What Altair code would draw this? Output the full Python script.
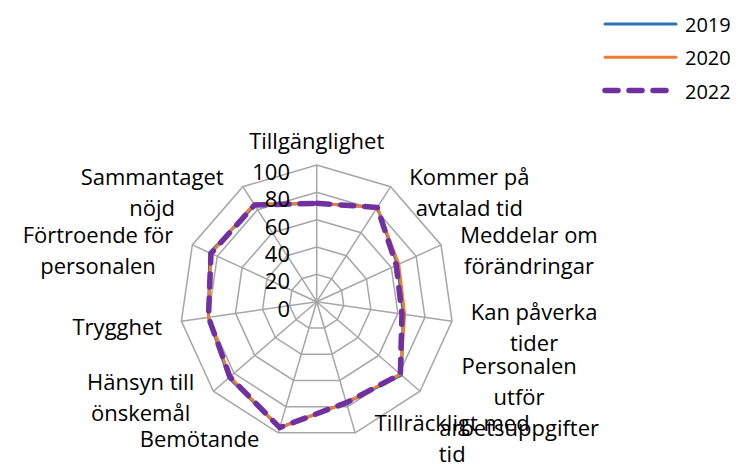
import math
import altair as alt
import pandas as pd

# ---------------- data ----------------
categories = ["Tillgänglighet", "Kommer på avtalad tid", "Meddelar om förändringar",
              "Kan påverka tider", "Personalen utför arbetsuppgifter", "Tillräckligt med tid",
              "Bemötande", "Hänsyn till önskemål", "Trygghet", "Förtroende för personalen",
              "Sammantaget nöjd"]
label_lines = [["Tillgänglighet"], ["Kommer på", "avtalad tid"], ["Meddelar om", "förändringar"],
               ["Kan påverka", "tider"], ["Personalen", "utför", "arbetsuppgifter"],
               ["Tillräckligt med", "tid"], ["Bemötande"], ["Hänsyn till", "önskemål"],
               ["Trygghet"], ["Förtroende för", "personalen"], ["Sammantaget", "nöjd"]]
years = ["2019", "2020", "2022"]
values_2019 = [72, 82, 65, 64, 82, 77, 96, 85, 80, 86, 84]
values_2020 = [72, 82, 66, 65, 81, 77, 96, 84, 80, 85, 85]
values_2022 = [72, 82, 64, 63, 81, 77, 96, 84, 80, 85, 84]
tick_values = [0, 20, 40, 60, 80, 100]
ring_values = [20, 40, 60, 80, 100]

# ---------------- styles / layout ----------------
colors = ["#2E75B6", "#ED7D31", "#7030A0"]
dashes = [[1, 0], [1, 0], [13, 11]]
widths = [3, 3, 5.5]
FONT = "Open Sans"
FS = 22
LEG_FS = 20
GRID = "#a6a6a6"

W, H = 723, 454
CX, CY = 316.7, 301.7          # radar centre on page (px)
R100 = 136.7                   # radius of the 100 ring (px)
K = R100 / 100.0
CXp, CYp = CX - 8, CY - 8
XDOM = [-CXp / K, (W - CXp) / K]
YDOM = [-(H - CYp) / K, CYp / K]
N = len(categories)
ANG = f"datum.idx * 2 * PI / {N}"


def X(f):
    return alt.X(f, type="quantitative", scale=alt.Scale(domain=XDOM, nice=False, zero=False), axis=None)


def Y(f):
    return alt.Y(f, type="quantitative", scale=alt.Scale(domain=YDOM, nice=False, zero=False), axis=None)


# text width estimate (Open Sans advance widths, em)
CW = {'a': .556, 'b': .613, 'c': .480, 'd': .613, 'e': .561, 'f': .336, 'g': .550, 'h': .613,
      'i': .258, 'j': .258, 'k': .529, 'l': .258, 'm': .929, 'n': .613, 'o': .601, 'p': .613,
      'q': .613, 'r': .408, 's': .479, 't': .356, 'u': .613, 'v': .500, 'w': .774, 'x': .520,
      'y': .500, 'z': .468, 'ä': .556, 'å': .556, 'ö': .601, ' ': .260, 'T': .556, 'K': .579,
      'M': .907, 'P': .603, 'B': .632, 'H': .738, 'S': .549, 'F': .525}


def tw(s):
    return sum(CW.get(c, 0.6) for c in s) * FS


# ---------------- tables ----------------
rows = []
for yr, vals in zip(years, [values_2019, values_2020, values_2022]):
    for i, v in enumerate(vals):
        rows.append({"year": yr, "idx": i, "value": v})
series_df = pd.DataFrame(rows)

ring_df = pd.DataFrame([{"level": lv, "idx": i} for lv in ring_values for i in range(N)])
spoke_df = pd.DataFrame({"idx": list(range(N))})
tick_df = pd.DataFrame({"tick": tick_values, "label": [str(t) for t in tick_values]})

lab_rows = []
for i, lines in enumerate(label_lines):
    hw = max(tw(s) for s in lines) / 2
    for j, s in enumerate(lines):
        lab_rows.append({"idx": i, "line": j, "n": len(lines), "text": s, "hw": hw})
lab_df = pd.DataFrame(lab_rows)

legend_df = pd.DataFrame({"year": years, "pos": list(range(len(years)))})

# ---------------- layers ----------------
rings = alt.Chart(ring_df).transform_calculate(
    theta=ANG,
    x="datum.level * sin(datum.theta)",
    y="datum.level * cos(datum.theta)",
).mark_line(interpolate="linear-closed", color=GRID, strokeWidth=1.5).encode(
    x=X("x"), y=Y("y"), detail="level:N", order="idx:Q")

spokes = alt.Chart(spoke_df).transform_calculate(
    theta=ANG,
    x0="0", y0="0",
    x="100 * sin(datum.theta)",
    y="100 * cos(datum.theta)",
).mark_rule(color=GRID, strokeWidth=1.5).encode(
    x=X("x0"), y=Y("y0"), x2="x:Q", y2="y:Q")

ticks = alt.Chart(tick_df).transform_calculate(
    x=f"{-26.7 / K}",
    y=f"datum.tick - {8 / K}",
).mark_text(align="right", baseline="middle", font=FONT, fontSize=FS, color="black").encode(
    x=X("x"), y=Y("y"), text="label:N")

labels = alt.Chart(lab_df).transform_calculate(
    theta=ANG,
    vx="100 * sin(datum.theta)",
    vy="100 * cos(datum.theta)",
    side="sin(datum.theta) > 0.01 ? 1 : (sin(datum.theta) < -0.01 ? -1 : 0)",
    x=f"datum.vx + datum.side * ({19} + datum.hw) / {K}",
    y=f"datum.vy + (datum.side == 0 ? {23 / K} : {-7 / K}) - (datum.line - (datum.n - 1) / 2) * {31 / K}",
).mark_text(align="center", baseline="middle", font=FONT, fontSize=FS, color="black").encode(
    x=X("x"), y=Y("y"), text="text:N")

series_layers = []
for yr, col, dsh, wd in zip(years, colors, dashes, widths):
    series_layers.append(
        alt.Chart(series_df).transform_filter(f"datum.year == '{yr}'").transform_calculate(
            theta=ANG,
            x="datum.value * sin(datum.theta)",
            y="datum.value * cos(datum.theta)",
        ).mark_line(interpolate="linear-closed", color=col, strokeDash=dsh, strokeWidth=wd,
                    strokeCap="round", strokeJoin="round").encode(
            x=X("x"), y=Y("y"), order="idx:Q")
    )

# legend (drawn from the years list)
LX0, LX1, LTX, LY0, LDY = 605, 676, 685, 24, 33.3
legend_lines = []
for yr, col, dsh, wd in zip(years, colors, dashes, widths):
    legend_lines.append(
        alt.Chart(legend_df).transform_filter(f"datum.year == '{yr}'").transform_calculate(
            x0=f"{(LX0 - CX) / K}",
            x1=f"{(LX1 - CX) / K}",
            y=f"({CY} - ({LY0} + datum.pos * {LDY})) / {K}",
        ).mark_rule(color=col, strokeDash=dsh, strokeWidth=wd, strokeCap="round").encode(
            x=X("x0"), x2="x1:Q", y=Y("y"))
    )
legend_text = alt.Chart(legend_df).transform_calculate(
    x=f"{(LTX - CX) / K}",
    y=f"({CY} - ({LY0} + 2 + datum.pos * {LDY})) / {K}",
).mark_text(align="left", baseline="middle", font=FONT, fontSize=LEG_FS, color="black").encode(
    x=X("x"), y=Y("y"), text="year:N")

chart = alt.layer(rings, spokes, *series_layers, ticks, labels, *legend_lines, legend_text).properties(
    width=W, height=H, padding=0, autosize="none"
).configure_view(stroke=None)

chart.save("out.html", embed_options={"renderer": "svg", "actions": False})
